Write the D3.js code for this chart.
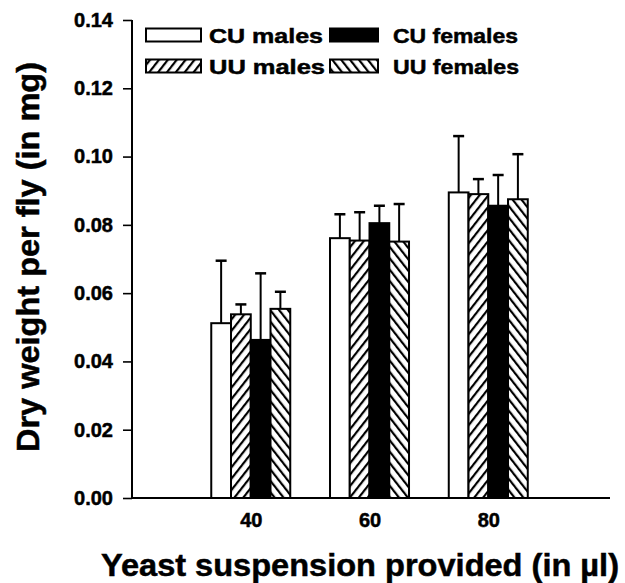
<!DOCTYPE html>
<html>
<head>
<meta charset="utf-8">
<script src="https://cdn.jsdelivr.net/npm/d3@7"></script>
<style>
  html, body { margin: 0; padding: 0; background: #fff; }
  svg { display: block; }
  text { font-family: "Liberation Sans", Arial, Helvetica, sans-serif; font-weight: bold; fill: #000; stroke: #000; stroke-width: 0.5px; }
</style>
</head>
<body>
<svg id="chart" width="625" height="583"></svg>
<script>
// ---- data ----
const categories = [40, 60, 80];
const seriesNames = ["CU males", "UU males", "CU females", "UU females"];
const cuMales      = [0.0512, 0.0761, 0.0895];
const cuMalesErr   = [0.0183, 0.0070, 0.0165];
const uuMales      = [0.0538, 0.0754, 0.0890];
const uuMalesErr   = [0.0029, 0.0083, 0.0044];
const cuFemales    = [0.0463, 0.0805, 0.0856];
const cuFemalesErr = [0.0195, 0.0051, 0.0090];
const uuFemales    = [0.0554, 0.0751, 0.0875];
const uuFemalesErr = [0.0050, 0.0110, 0.0132];
const yTicks = [0, 0.02, 0.04, 0.06, 0.08, 0.10, 0.12, 0.14];
const xLabel = "Yeast suspension provided (in \u00b5l)";
const yLabel = "Dry weight per fly (in mg)";
const legendRows = [["CU males", "CU females"], ["UU males", "UU females"]];

const seriesValues = [cuMales, uuMales, cuFemales, uuFemales];
const seriesErrs = [cuMalesErr, uuMalesErr, cuFemalesErr, uuFemalesErr];
const fills = {"CU males": "#fff", "UU males": "url(#hatchFwd)", "CU females": "#000", "UU females": "url(#hatchBack)"};

const svg = d3.select("#chart");

// patterns
const defs = svg.append("defs");
function hatch(id, dir) {
  const p = defs.append("pattern").attr("id", id).attr("patternUnits", "userSpaceOnUse")
    .attr("width", 7).attr("height", 7)
    .attr("patternTransform", `rotate(${dir > 0 ? 38 : -38})`);
  p.append("rect").attr("width", 7).attr("height", 7).attr("fill", "#fff");
  p.append("line").attr("x1", 0).attr("y1", 0).attr("x2", 0).attr("y2", 7)
    .attr("stroke", "#000").attr("stroke-width", 4.4);
}
hatch("hatchFwd", 1);
hatch("hatchBack", -1);

const x = d3.scaleLinear().domain([20, 100.5]).range([132, 610]);
const y = d3.scaleLinear().domain([0, 0.14]).range([498, 20]);
const inner = d3.scaleBand().domain(seriesNames).range([-39.5, 39.5]).padding(0);

const data = [];
categories.forEach((c, ci) => {
  seriesNames.forEach((s, si) => {
    data.push({cat: c, name: s, v: seriesValues[si][ci], e: seriesErrs[si][ci]});
  });
});

const g = svg.append("g");
const cx = d => x(d.cat) + inner(d.name) + inner.bandwidth() / 2;
const eb = g.selectAll("g.err").data(data).enter().append("g");
eb.append("line")
  .attr("x1", cx).attr("x2", cx)
  .attr("y1", d => y(d.v)).attr("y2", d => y(d.v + d.e))
  .attr("stroke", "#000").attr("stroke-width", 2);
eb.append("line")
  .attr("x1", d => cx(d) - 5.5).attr("x2", d => cx(d) + 5.5)
  .attr("y1", d => y(d.v + d.e)).attr("y2", d => y(d.v + d.e))
  .attr("stroke", "#000").attr("stroke-width", 2.5);

g.selectAll("rect.bar").data(data).enter().append("rect")
  .attr("x", d => x(d.cat) + inner(d.name))
  .attr("width", inner.bandwidth())
  .attr("y", d => y(d.v))
  .attr("height", d => y(0) - y(d.v))
  .attr("fill", d => fills[d.name])
  .attr("stroke", "#000").attr("stroke-width", 2);

// axes
const yAxis = d3.axisLeft(y).tickValues(yTicks).tickFormat(d3.format(".2f")).tickSize(9).tickPadding(10);
const ya = svg.append("g").attr("transform", "translate(132,0)").call(yAxis);
ya.select(".domain").attr("stroke-width", 2).attr("d", `M0,${y(0.14)}V${y(0)}`);
ya.selectAll(".tick line").attr("stroke-width", 1.6);
ya.selectAll("text").style("font-size", "20px").style("font-family", "Liberation Sans, Arial, sans-serif").style("font-weight", "bold").attr("fill", "#000");

const xAxis = d3.axisBottom(x).tickValues(categories).tickFormat(d3.format("d")).tickSize(0).tickPadding(15);
const xa = svg.append("g").attr("transform", `translate(0,${y(0)})`).call(xAxis);
xa.select(".domain").attr("stroke-width", 2).attr("d", `M132,0H610`);
xa.selectAll("text").style("font-size", "20px").style("font-family", "Liberation Sans, Arial, sans-serif").style("font-weight", "bold").attr("fill", "#000");

// titles
svg.append("text").attr("x", 101).attr("y", 576)
  .attr("textLength", 518).attr("lengthAdjust", "spacingAndGlyphs")
  .style("font-size", "32px").text(xLabel);
svg.append("text").attr("transform", "translate(39,452) rotate(-90)")
  .attr("textLength", 390).attr("lengthAdjust", "spacingAndGlyphs")
  .style("font-size", "31px").text(yLabel);

// legend
const legCols = [{bx: 146, bw: 55, tx: 209}, {bx: 330, bw: 48, tx: 393}];
const legWidths = [[114, 125], [116, 126]];
const legRowsY = [35, 66];
legendRows.forEach((row, ri) => {
  row.forEach((name, ci) => {
    const c = legCols[ci];
    svg.append("rect").attr("x", c.bx).attr("y", legRowsY[ri] - 6.5).attr("width", c.bw).attr("height", 13)
      .attr("fill", fills[name]).attr("stroke", "#000").attr("stroke-width", 2);
    svg.append("text").attr("x", c.tx).attr("y", legRowsY[ri] + 8)
      .attr("textLength", legWidths[ri][ci]).attr("lengthAdjust", "spacingAndGlyphs")
      .style("font-size", "21px").text(name);
  });
});
</script>
</body>
</html>
